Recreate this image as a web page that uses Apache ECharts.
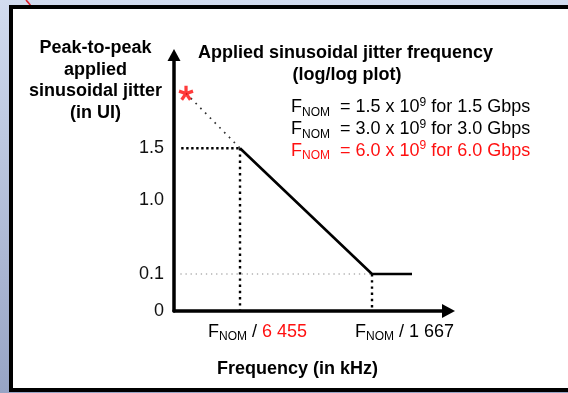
<!DOCTYPE html>
<html><head><meta charset="utf-8">
<script src="https://cdn.jsdelivr.net/npm/echarts@6/dist/echarts.min.js"></script>
<style>html,body{margin:0;padding:0;background:#fff;}#c{width:568px;height:393px;}</style>
</head><body><div id="c"></div>
<script>
// ---------- data ----------
const F_NOM_KHZ = 6.0e6;                 // F_NOM = 6.0 x 10^9 Hz, expressed in kHz
const xTickDivisors = [6455, 1667];      // x tick labels: F_NOM / divisor
const xTickColors = ['#ff1010', '#000'];
const yTickValues = [0, 0.1, 1.0, 1.5];
const yTickLabels = ['0', '0.1', '1.0', '1.5'];
const maskDivisors = [6455, 1667, 1106]; // solid tolerance mask
const maskJitterUI = [1.5, 0.1, 0.1];
const extrapDivisors = [11230, 6455];    // dotted extrapolation to the red star
const extrapJitterUI = [2.03, 1.5];
const guideStartDivisor = 11800;         // start of the dotted 1.5 UI guide
const gridStartDivisor = 11900;          // start of the light 0.1 UI guide
const legendFnom = ['1.5', '3.0', '6.0'];
const legendRates = ['1.5', '3.0', '6.0'];
const legendColors = ['#000', '#000', '#ff1010'];
const axisMinDivisor = 12704, axisMaxDivisor = 760.7;

// ---------- scales ----------
const FONT = '"Liberation Sans", Arial, sans-serif';
const lx = d => Math.log10(F_NOM_KHZ / d);      // log/log plot: x in decades of kHz
const yKnotPos = [0, 1, 3, 4.4];                 // schematic (non-uniform) y axis
function yPos(v) {
  const n = yTickValues.length;
  for (let i = 1; i < n; i++) {
    if (v <= yTickValues[i] || i === n - 1) {
      const a = yTickValues[i - 1], b = yTickValues[i];
      return yKnotPos[i - 1] + (v - a) * (yKnotPos[i] - yKnotPos[i - 1]) / (b - a);
    }
  }
}
const yMaxPos = 256 / 37;

// star path (5 arms)
function asterisk() {
  const L = 10, w = 4.4; let p = '';
  for (let k = 0; k < 5; k++) {
    const a = (-90 + 72 * k) * Math.PI / 180;
    const dx = Math.cos(a), dy = Math.sin(a), px = -dy, py = dx;
    const pts = [[px * w / 2, py * w / 2], [px * w / 2 + dx * L, py * w / 2 + dy * L],
                 [-px * w / 2 + dx * L, -py * w / 2 + dy * L], [-px * w / 2, -py * w / 2]];
    p += 'M' + pts.map(q => q[0].toFixed(2) + ' ' + q[1].toFixed(2)).join(' L') + ' Z ';
  }
  return 'path://' + p;
}

const txt = { fontFamily: FONT, fontSize: 18, lineHeight: 22, verticalAlign: 'middle' };
function fnomRich(color, color2) {
  return {
    f: Object.assign({}, txt, { fill: color }),
    s: { fontFamily: FONT, fontSize: 12, lineHeight: 12, verticalAlign: 'bottom', fill: color },
    p: { fontFamily: FONT, fontSize: 12, lineHeight: 16, verticalAlign: 'top', fill: color },
    m: Object.assign({}, txt, { fill: color }),
    r: Object.assign({}, txt, { fill: color2 || color })
  };
}
const fmtDiv = d => String(d).replace(/(\d)(?=(\d{3})+$)/g, '$1 ');

const chart = echarts.init(document.getElementById('c'), null, { renderer: 'canvas', width: 568, height: 393 });

const noSym = { type: 'line', symbol: 'none', silent: true, animation: false };
chart.setOption({
  animation: false,
  backgroundColor: new echarts.graphic.LinearGradient(0, 0, 0, 1, [
    { offset: 0, color: '#d2dcef' }, { offset: 1, color: '#97a4c5' }]),
  grid: { left: 174, right: 119.5, top: 55, bottom: 82, containLabel: false },
  xAxis: {
    type: 'value', min: lx(axisMinDivisor), max: lx(axisMaxDivisor),
    axisLine: { show: true, symbol: ['none', 'triangle'], symbolSize: [14, 13], lineStyle: { color: '#000', width: 3.5 } },
    axisTick: { show: false }, splitLine: { show: false }, axisLabel: { show: false }
  },
  yAxis: {
    type: 'value', min: 0, max: yMaxPos,
    axisLine: { show: true, symbol: ['none', 'triangle'], symbolSize: [13, 12], lineStyle: { color: '#000', width: 3.5 } },
    axisTick: { show: false }, splitLine: { show: false },
    axisLabel: {
      customValues: yTickValues.map(yPos), margin: 10, hideOverlap: false,
      fontFamily: FONT, fontSize: 18, color: '#111',
      formatter: function (v) {
        let idx = 0, best = 1e9;
        yTickValues.forEach((t, i) => { const e = Math.abs(yPos(t) - v); if (e < best) { best = e; idx = i; } });
        return yTickLabels[idx];
      }
    }
  },
  series: [
    Object.assign({}, noSym, { z: 2, data: [[lx(gridStartDivisor), yPos(0.1)], [lx(maskDivisors[1]), yPos(0.1)]],
      lineStyle: { color: '#8a8a8a', width: 1.2, type: [1.3, 3.8] } }),
    Object.assign({}, noSym, { z: 3, data: [[lx(guideStartDivisor), yPos(1.5)], [lx(maskDivisors[0]), yPos(1.5)]],
      lineStyle: { color: '#000', width: 2.4, type: [2.4, 2.6] } }),
    Object.assign({}, noSym, { z: 3, data: [[lx(maskDivisors[0]), yPos(1.5)], [lx(maskDivisors[0]), yPos(0)]],
      lineStyle: { color: '#000', width: 2.4, type: [2.4, 3.8] } }),
    Object.assign({}, noSym, { z: 3, data: [[lx(maskDivisors[1]), yPos(0.1)], [lx(maskDivisors[1]), yPos(0)]],
      lineStyle: { color: '#000', width: 2.4, type: [2.4, 3.8] } }),
    Object.assign({}, noSym, { z: 3, data: extrapDivisors.map((d, i) => [lx(d), yPos(extrapJitterUI[i])]),
      lineStyle: { color: '#333', width: 1.7, type: [1.7, 5.1] } }),
    Object.assign({}, noSym, { z: 4, data: maskDivisors.map((d, i) => [lx(d), yPos(maskJitterUI[i])]),
      lineStyle: { color: '#000', width: 2.6, cap: 'butt' } }),
    { type: 'scatter', z: 5, silent: true, animation: false,
      data: [[lx(extrapDivisors[0]), yPos(extrapJitterUI[0])]],
      symbol: asterisk(), symbolSize: [15, 15], itemStyle: { color: '#ff0a0a' } }
  ]
});

// ---------- texts ----------
const graphics = [
  { type: 'polyline', z: -20, shape: { points: [[26, 0], [28.3, 2.6], [30.5, 5.5]] }, style: { stroke: '#e0202a', lineWidth: 1.6, fill: null } },
  { type: 'rect', z: -10, shape: { x: 11, y: 7, width: 620, height: 383 }, style: { fill: '#ffffff', stroke: '#000', lineWidth: 4 } },
  { type: 'text', z: 50, x: 95.5, y: 37.2, style: { text: 'Peak-to-peak\napplied\nsinusoidal jitter\n(in UI)', fill: '#000',
      font: 'bold 18px ' + FONT, lineHeight: 21.7, align: 'center', verticalAlign: 'top' } },
  { type: 'text', z: 50, x: 198, y: 53, style: { text: 'Applied sinusoidal jitter frequency', fill: '#000',
      font: 'bold 18px ' + FONT, align: 'left', verticalAlign: 'middle' } },
  { type: 'text', z: 50, x: 347, y: 75, style: { text: '(log/log plot)', fill: '#000',
      font: 'bold 18px ' + FONT, align: 'center', verticalAlign: 'middle' } },
  { type: 'text', z: 50, x: 297.5, y: 369, style: { text: 'Frequency (in kHz)', fill: '#000',
      font: 'bold 18px ' + FONT, align: 'center', verticalAlign: 'middle' } }
];
legendFnom.forEach((f, i) => {
  graphics.push({ type: 'text', z: 50, x: 291, y: 107.5 + i * 21.7, style: {
    text: '{f|F}{s|NOM}{m|  = ' + f + ' x 10}{p|9}{m| for ' + legendRates[i] + ' Gbps}',
    rich: fnomRich(legendColors[i]), align: 'left', verticalAlign: 'middle' } });
});
// x tick labels placed at their axis positions (labels sit left-aligned a little before each tick)
const xLabelShift = [-32, -17];
xTickDivisors.forEach((d, i) => {
  const px = chart.convertToPixel({ xAxisIndex: 0 }, lx(d));
  const py = chart.convertToPixel({ yAxisIndex: 0 }, 0);
  graphics.push({ type: 'text', z: 50, x: px + xLabelShift[i], y: py + 21, style: {
    text: '{f|F}{s|NOM}{m| / }{r|' + fmtDiv(d) + '}',
    rich: fnomRich('#000', xTickColors[i]), align: 'left', verticalAlign: 'middle' } });
});
chart.setOption({ graphic: { elements: graphics } });
</script></body></html>
